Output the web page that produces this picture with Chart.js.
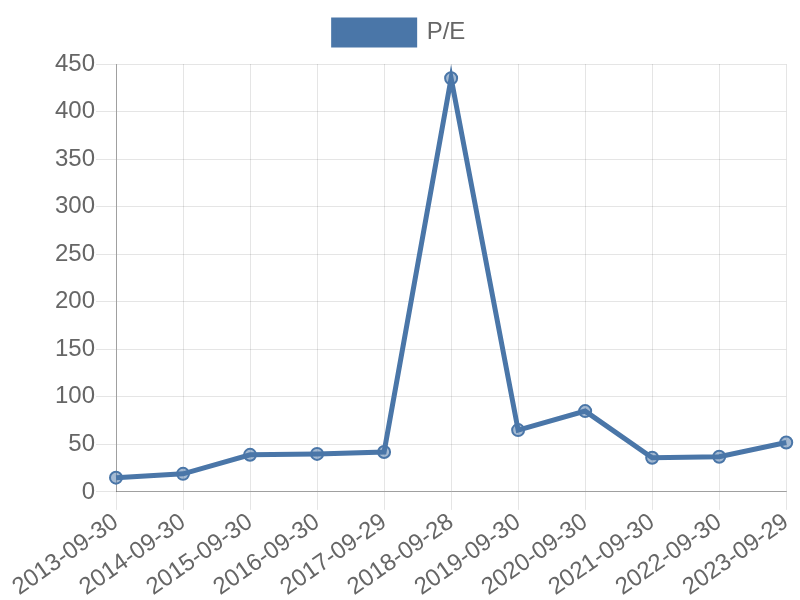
<!DOCTYPE html>
<html>
<head>
<meta charset="utf-8">
<script src="https://cdn.jsdelivr.net/npm/chart.js@4/dist/chart.umd.min.js"></script>
<style>
  html, body { margin: 0; padding: 0; background: #fff; }
  #wrap { width: 800px; height: 600px; }
</style>
</head>
<body>
<div id="wrap"><canvas id="peChart"></canvas></div>
<script>
// Fiscal year ends and P/E ratio
const dates = ["2013-09-30", "2014-09-30", "2015-09-30", "2016-09-30", "2017-09-29",
    "2018-09-28", "2019-09-30", "2020-09-30", "2021-09-30", "2022-09-30", "2023-09-29"];
const peValues = [15, 19, 39, 40, 42, 435, 65, 85, 36, 37, 52];

const lineColor = "#4a76a8";

Chart.defaults.font.family = "'Liberation Sans', Arial, sans-serif";
Chart.defaults.font.size = 24;
Chart.defaults.color = "#666";

// a bit more room under the legend
const legendGap = {
    id: "legendGap",
    beforeInit(chart) {
        const fit = chart.legend.fit;
        chart.legend.fit = function () {
            fit.bind(chart.legend)();
            this.height += 9;
        };
    }
};

const ctx = document.getElementById("peChart").getContext("2d");

new Chart(ctx, {
    type: "line",
    data: {
        labels: dates,
        datasets: [
            {
                label: "P/E",
                data: peValues,
                fill: false,
                borderColor: lineColor,
                backgroundColor: lineColor,
                borderWidth: 5,
                tension: 0,
                pointRadius: 6,
                pointBorderWidth: 2,
                pointBorderColor: lineColor,
                pointBackgroundColor: "rgba(74,118,168,0.5)"
            }
        ]
    },
    options: {
        responsive: true,
        maintainAspectRatio: false,
        animation: false,
        layout: { padding: { top: 7, left: 8, right: 9 } },
        plugins: {
            legend: {
                position: "top",
                labels: {
                    boxWidth: 81,
                    boxHeight: 25,
                    padding: 13
                }
            },
            tooltip: { enabled: false }
        },
        scales: {
            x: {
                grid: { color: "rgba(0,0,0,0.1)", tickLength: 18 },
                border: { color: "rgba(0,0,0,0.3)" },
                ticks: { maxRotation: 35, minRotation: 35, padding: 0, font: { lineHeight: 1 } }
            },
            y: {
                min: 0,
                max: 450,
                grid: { color: "rgba(0,0,0,0.1)", tickLength: 20 },
                border: { color: "rgba(0,0,0,0.3)" },
                ticks: { stepSize: 50, padding: 1 },
                afterFit(scale) {
                    scale.width = 108;
                }
            }
        }
    },
    plugins: [legendGap]
});
</script>
</body>
</html>
